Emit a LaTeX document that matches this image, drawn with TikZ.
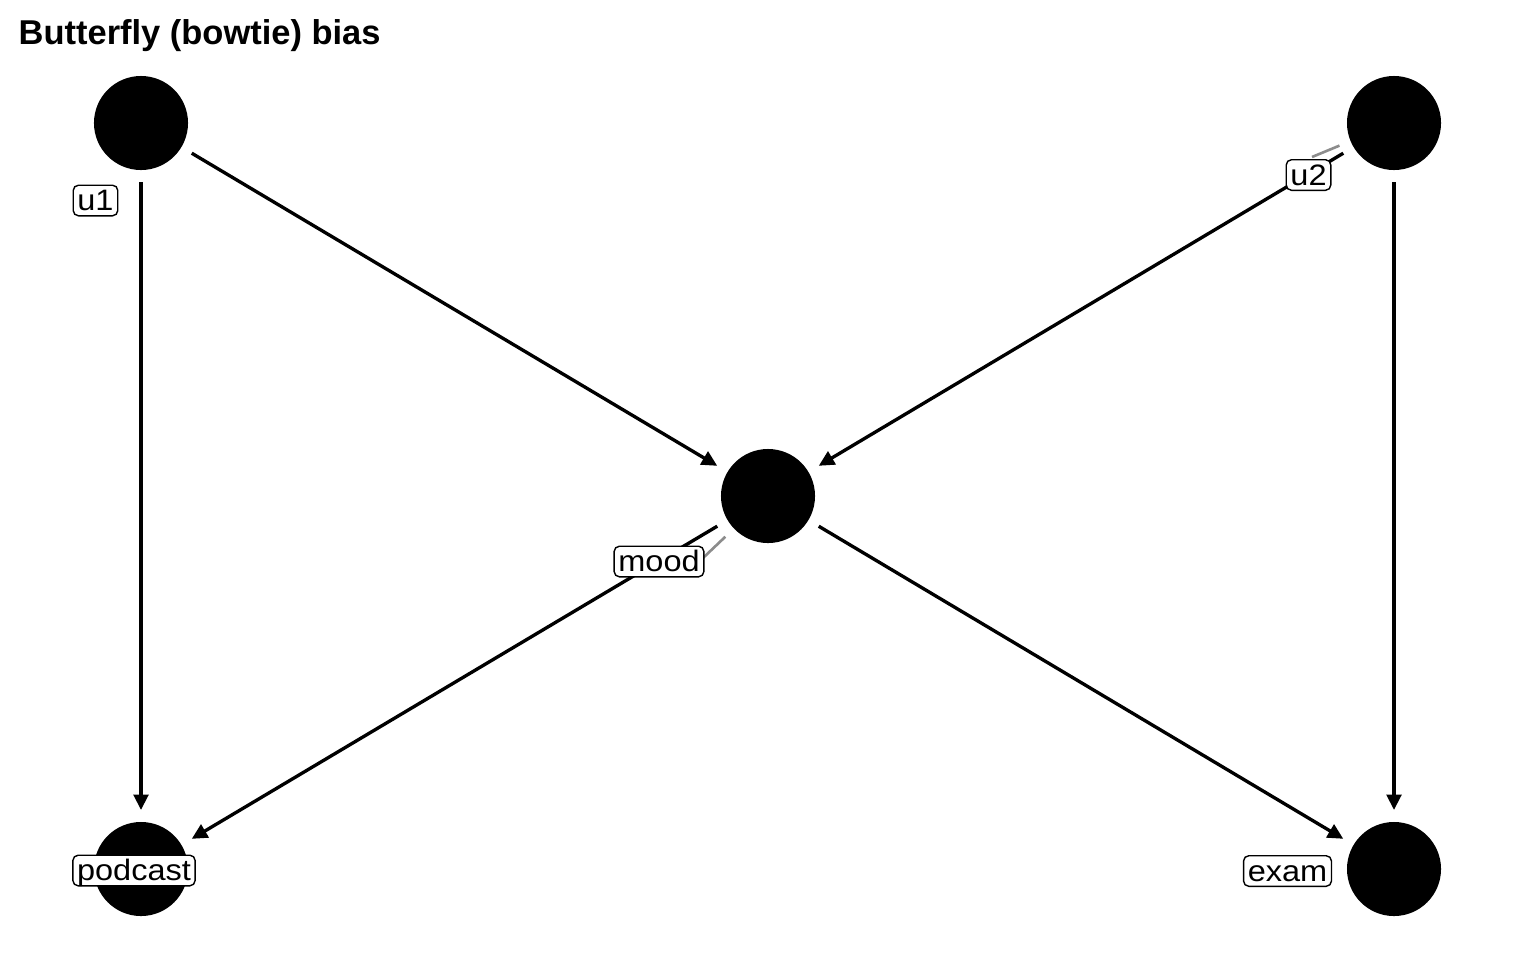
\documentclass[tikz,border=0pt]{standalone}
\usepackage{fontspec}
\setmainfont{Liberation Sans}
\newfontfamily\labfont[FakeStretch=1.1]{Liberation Sans}
\usepackage{tikz}
\usetikzlibrary{arrows.meta}

\begin{document}
\begin{tikzpicture}[x=0.01cm, y=-0.01cm,
        >={Triangle[length=4.4pt, width=4.2pt]},
        dot/.style={circle, fill=black, inner sep=0pt, minimum size=0.94cm, outer sep=0.12cm},
        lab/.style={draw, fill=white, rounded corners=1.5pt, line width=0.4pt, inner xsep=1.2pt, inner ysep=0pt,
                    text height=7.3pt, text depth=1.4pt, font=\labfont\fontsize{8.4pt}{10pt}\selectfont},
        seg/.style={draw=black!45, line width=0.75pt}]
        \useasboundingbox (0, 0) rectangle (1536, 960);

        \node[anchor=base west, inner sep=0pt, font=\fontsize{9.8pt}{12pt}\selectfont\bfseries] at (18, 44) (title) {Butterfly (bowtie) bias};

        \node[dot] at (141, 123) (u1) {};
        \node[dot] at (1394, 123) (u2) {};
        \node[dot] at (768, 496) (mood) {};
        \node[dot] at (141, 869) (podcast) {};
        \node[dot] at (1394, 869) (exam) {};

        \draw[->, line width=0.95pt] (u1) -- (podcast);
        \draw[->, line width=0.95pt] (u1) -- (mood);
        \draw[->, line width=0.95pt] (u2) -- (mood);
        \draw[->, line width=0.95pt] (u2) -- (exam);
        \draw[->, line width=0.95pt] (mood) -- (podcast);
        \draw[->, line width=0.95pt] (mood) -- (exam);

        \coordinate (su2) at (1312, 157);
        \coordinate (smood) at (703, 558);
        \draw[seg] (su2) -- (u2);
        \draw[seg] (smood) -- (mood);

        \node[lab] at (95.5, 200.5) (lu1) {u1};
        \node[lab] at (1308.5, 175) (lu2) {u2};
        \node[lab] at (659, 561.5) (lmood) {mood};
        \node[lab] at (134, 870.5) (lpodcast) {podcast};
        \node[lab] at (1287.5, 871) (lexam) {exam};
    \end{tikzpicture}
\end{document}
